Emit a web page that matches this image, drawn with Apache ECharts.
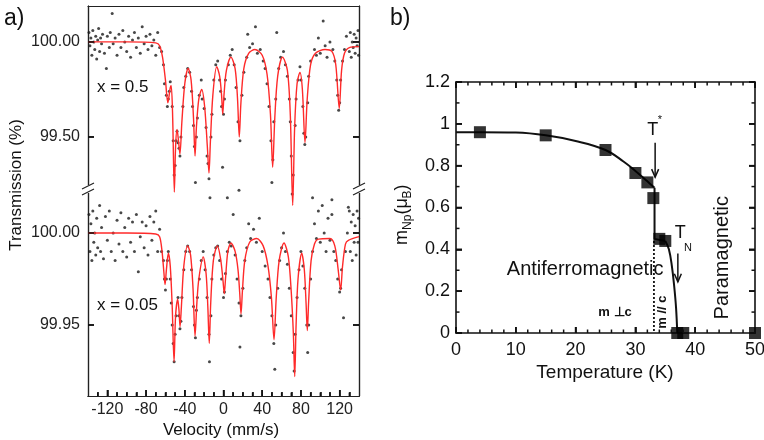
<!DOCTYPE html>
<html><head><meta charset="utf-8">
<script src="https://cdn.jsdelivr.net/npm/echarts@6/dist/echarts.min.js"></script>
<style>html,body{margin:0;padding:0;background:#fff}#c{width:764px;height:440px}</style>
</head><body><div id="c"></div>
<script>
// ---------- Panel a: Mössbauer spectra ----------
const velTicks = [-120, -80, -40, 0, 40, 80, 120];
const velMinorTicks = [-130, -110, -100, -90, -70, -60, -50, -30, -20, -10, 10, 20, 30, 50, 60, 70, 90, 100, 110, 130];
const topTicks = [99.5, 100.0];
const botTicks = [99.95, 100.0];

const scatterX05 = [
[-139,100.05],[-138,99.98],[-137,100.02],[-136,99.93],[-135,100.06],[-134,100.00],[-133,99.96],[-132,100.03],[-131,99.91],[-130,100.01],
[-129,100.07],[-128,99.95],[-127,100.02],[-126,99.99],[-125,100.04],[-123,99.94],[-121,99.86],[-120,100.03],[-118,99.97],[-117,100.05],
[-115,100.15],[-114,99.99],[-112,100.02],[-110,99.93],[-108,100.04],[-106,99.97],[-104,100.06],[-102,100.00],[-100,99.95],[-98,100.03],
[-96,99.92],[-94,100.01],[-92,100.05],[-90,99.97],[-88,100.02],[-86,99.94],[-84,100.08],[-82,99.99],[-80,100.03],[-78,99.96],
[-76,100.04],[-74,99.98],[-72,100.01],[-70,99.93],[-68,100.05],[-66,99.97],
[-64,99.95],[-62,99.88],[-61,99.78],[-59,99.72],[-58,99.66],[-57,99.70],[-56,99.74],[-55,99.79],[-53,99.66],[-52,99.48],
[-51,99.30],[-50,99.35],[-49,99.48],[-48,99.53],[-47,99.47],[-46,99.44],[-45,99.40],[-44,99.50],[-42,99.66],[-41,99.76],
[-39,99.82],[-37,99.86],[-35,99.84],[-33,99.74],[-32,99.66],[-31,99.56],[-30,99.45],[-29,99.26],[-28,99.50],[-27,99.60],
[-25,99.72],[-23,99.80],[-22,99.70],[-20,99.65],[-18,99.55],[-17,99.40],[-16,99.36],[-15,99.28],[-14,99.18],[-13,99.50],
[-12,99.62],[-10,99.80],[-8,99.88],[-6,99.90],[-4,99.80],[-3,99.74],[-2,99.66],[-1,99.34],[0,99.62],[1,99.70],
[2,99.80],[4,99.18],[5,99.88],[7,99.93],[9,99.96],[11,99.88],[13,99.76],[15,99.58],[16,99.22],[17,99.48],
[19,99.72],[21,99.84],[24,99.92],[25,100.04],[27,99.97],[30,99.99],[33,100.08],[35,99.94],[38,99.96],[41,99.90],
[43,99.86],[45,99.78],[47,99.66],[49,99.48],[50,99.26],[51,99.38],[52,99.58],[54,99.70],[55,100.05],[57,99.86],
[59,99.92],[62,99.95],[64,99.88],[66,99.82],[68,99.70],[69,99.58],[70,99.40],[71,99.20],[72,99.30],[74,99.56],
[75,99.70],[77,99.80],[79,99.87],[80,99.80],[82,99.66],[83,99.52],[84,99.46],[85,99.50],[87,99.68],[88,99.82],
[90,99.90],[92,99.18],[94,99.96],[96,99.93],[98,100.02],[100,99.94],[103,100.11],[105,99.98],[107,99.92],[110,100.00],
[112,99.17],[113,99.96],[115,99.90],[117,99.80],[118,99.72],[119,99.64],[120,99.68],[121,99.80],[123,99.90],[125,99.96],
[127,100.03],[129,99.13],[130,99.95],[131,100.05],[132,99.92],[133,100.00],[134,99.97],[135,100.04],[136,99.94],[137,100.02],
[138,99.98],[139,100.06],[139.5,99.93]
];

const fitX05 = [
[-140,100.00],[-100,100.00],[-70,99.995],[-66,99.98],[-63,99.92],[-60,99.80],[-57.5,99.68],[-55,99.76],[-54,99.77],[-52.5,99.60],
[-50.8,99.21],[-49.5,99.45],[-48,99.54],[-46.5,99.48],[-45,99.41],[-43,99.58],[-40,99.78],[-36.5,99.86],[-33.5,99.80],[-31,99.60],
[-29.4,99.40],[-28,99.55],[-25.5,99.70],[-22.5,99.75],[-19.5,99.66],[-16.7,99.45],[-15,99.31],[-13.5,99.48],[-11,99.72],[-7,99.87],
[-4,99.82],[-2,99.72],[-0.8,99.62],[0.5,99.72],[3,99.85],[7.7,99.92],[12,99.86],[14.5,99.70],[16.3,99.50],[18,99.68],
[21,99.86],[26,99.94],[32.5,99.96],[40,99.93],[45,99.83],[48.5,99.62],[50.8,99.34],[53,99.60],[56,99.82],[61,99.92],
[66,99.85],[69,99.62],[71.5,99.14],[73.5,99.55],[76,99.78],[79,99.84],[81.5,99.75],[84.2,99.47],[86.5,99.70],[90,99.88],
[95,99.94],[105,99.96],[112,99.95],[116,99.88],[119.6,99.65],[122,99.85],[125,99.94],[130,99.97],[140,99.975]
];

const scatterX005 = [
[-139,100.01],[-138,99.99],[-137,100.005],[-136,99.985],[-135,100.012],[-134,99.995],[-133,100.00],[-132,99.988],[-131,100.008],[-130,99.992],
[-128,100.015],[-127,99.99],[-126,100.003],[-124,99.986],[-122,100.009],[-120,99.996],[-118,100.012],[-116,99.99],[-114,100.00],[-112,99.985],
[-110,100.007],[-108,99.994],[-106,100.011],[-104,99.99],[-102,100.003],[-100,99.987],[-98,100.008],[-96,99.995],[-94,100.006],[-92,99.99],
[-90,100.01],[-88,99.979],[-86,99.998],[-84,100.006],[-82,99.992],[-80,100.004],[-78,99.988],[-76,100.009],[-74,99.996],[-72,100.006],
[-70,100.012],[-68,99.99],[-66,100.002],
[-64,99.99],[-62,99.985],[-61,99.975],[-60,99.969],[-59,99.975],[-58,99.985],[-57,99.99],[-55,99.975],[-54,99.962],[-53,99.95],
[-52,99.94],[-51,99.93],[-50,99.945],[-49,99.955],[-47,99.965],[-46,99.955],[-45,99.948],[-44,99.952],[-43,99.965],[-41,99.98],
[-39,99.99],[-37,99.993],[-35,99.99],[-33,99.98],[-31,99.96],[-30,99.95],[-29,99.943],[-28,99.958],[-27,99.965],[-25,99.975],
[-23,99.985],[-21,99.99],[-19,99.98],[-17,99.965],[-15,99.945],[-14.5,99.93],[-13,99.955],[-12,99.975],[-10,99.988],[-8,99.992],
[-6,99.993],[-4,99.985],[-2,99.975],[0,99.965],[1,99.968],[2,99.978],[4,99.99],[6,99.995],[8,99.993],[10,100.01],
[12,99.988],[14,99.975],[16,99.962],[17,99.938],[18,99.955],[20,99.97],[22,99.985],[24,99.992],[26,100.005],[28,99.997],
[31,100.002],[34,99.995],[37,100.008],[40,99.99],[43,99.982],[46,99.975],[48,99.965],[50,99.955],[52,99.94],[53,99.926],
[54,99.95],[56,99.97],[58,99.985],[60,99.992],[62,100.0],[64,99.99],[66,99.983],[68,99.97],[70,99.955],[72,99.935],
[73,99.925],[74,99.945],[76,99.965],[78,99.98],[80,99.99],[82,99.982],[84,99.97],[86,99.95],[87,99.935],[88,99.95],
[90,99.975],[92,99.99],[94,100.005],[96,99.997],[98,100.012],[100,99.995],[102,100.015],[104,100.0],[106,99.99],[108,100.008],
[110,99.996],[112,100.01],[114,99.99],[116,99.985],[118,99.975],[120,99.968],[121,99.97],[122,99.98],[124,99.954],[126,99.99],
[128,100.0],[130,100.012],[131,99.99],[132,100.006],[133,99.985],[134,100.01],[135,99.995],[136,100.004],[137,99.988],[138,100.012],
[139,99.995],[139.5,100.008]
];

const fitX005 = [
[-140,100.0],[-100,100.0],[-70,99.9995],[-66,99.998],[-63.5,99.99],[-61.5,99.978],[-60.4,99.972],[-59,99.98],[-57,99.989],[-55,99.982],
[-53,99.96],[-51.1,99.930],[-49.5,99.955],[-47.3,99.964],[-46,99.958],[-44.9,99.949],[-43.5,99.96],[-41,99.982],[-37,99.993],[-34,99.988],
[-31.5,99.97],[-29.4,99.944],[-27.5,99.962],[-25.5,99.975],[-21,99.987],[-18,99.978],[-16.2,99.96],[-14.7,99.940],[-13.2,99.962],[-10.5,99.985],
[-6.4,99.993],[-3,99.986],[-0.5,99.974],[0.8,99.967],[2.2,99.976],[4.5,99.99],[7.7,99.9946],[12,99.99],[15,99.98],[16.8,99.967],
[18.1,99.956],[19.5,99.968],[22,99.985],[27,99.995],[34.3,99.997],[41,99.993],[46,99.982],[49.5,99.965],[52.2,99.942],[54.5,99.965],
[57.5,99.985],[62.5,99.9946],[67,99.987],[70,99.968],[72.2,99.945],[73.6,99.922],[75,99.95],[77,99.975],[80.8,99.989],[83.5,99.98],
[85.3,99.962],[86.6,99.947],[88,99.963],[90.5,99.985],[94,99.994],[98,99.9967],[110,99.997],[115,99.993],[118.5,99.98],[121,99.969],
[123,99.982],[126,99.994],[129,99.996],[140,99.998]
];

// ---------- Panel b: ordered moment vs temperature ----------
const tempTicks = [0, 10, 20, 30, 40, 50];
const tempMinorTicks = [2, 4, 6, 8, 12, 14, 16, 18, 22, 24, 26, 28, 32, 34, 36, 38, 42, 44, 46, 48];
const momentTicks = [0, 0.2, 0.4, 0.6, 0.8, 1.0, 1.2];
const momentMinorTicks = [0.1, 0.3, 0.5, 0.7, 0.9, 1.1];
const momentPoints = [[4,0.96],[15,0.945],[25,0.875],[30,0.765],[32,0.72],[33,0.645],[34,0.45],[35,0.44],[37,0],[38,0],[50,0]];
const fitLow = [[0,0.96],[4,0.96],[10,0.958],[15,0.945],[20,0.918],[25,0.875],[28,0.82],[30,0.775],[32,0.725],[33.2,0.695]];
const fitJump = [[33.2,0.695],[33.2,0.45],[35,0.44]];
const fitHigh = [[35,0.44],[35.6,0.40],[36.1,0.32],[36.5,0.22],[36.8,0.12],[37,0]];
const dottedBoundary = [[33.1,0.44],[33.1,0]];

const FONT = 'Liberation Sans, Arial, sans-serif';
const chart = echarts.init(document.getElementById('c'));

const topMin = 98.137, topMax = 100.189;
const botMin = 99.9114, botMax = 100.1234;
const GA = {left: 88, top: 6, width: 271, height: 390};
const GB = {left: 456, top: 82, width: 299, height: 251};

function fmt2(v){ return Number(v).toFixed(2); }
function lineA(){ return {show: true, onZero: false, lineStyle: {color: '#222', width: 1.2}}; }
function lineB(){ return {show: true, onZero: false, lineStyle: {color: '#111', width: 1.6}}; }
function tickA(vals, len){ return {show: true, inside: true, length: len, customValues: vals, lineStyle: {color: '#000', width: 1.5}}; }
function tickB(vals, len){ return {show: true, inside: true, length: len, customValues: vals, lineStyle: {color: '#000', width: 1.6}}; }

// linear maps of the grids (used for annotations and tick strokes)
function PAx(v){ return GA.left + (v + 140) / 280 * GA.width; }
function PAyTop(t){ return GA.top + (topMax - t) / (topMax - topMin) * GA.height; }
function PAyBot(t){ return GA.top + (botMax - t) / (botMax - botMin) * GA.height; }
function PB(x, y){ return [GB.left + x / 50 * GB.width, GB.top + GB.height - y / 1.2 * GB.height]; }

function txt(x, y, text, size, extra){
  return Object.assign({type: 'text', x: x, y: y, z: 10,
    style: Object.assign({text: text, font: (extra && extra.bold ? 'bold ' : '') + size + 'px ' + FONT, fill: '#111',
      align: 'center', verticalAlign: 'middle'}, extra && extra.style)}, extra && extra.el);
}
function seg(x1, y1, x2, y2, w){
  return {type: 'line', z: 9, shape: {x1: x1, y1: y1, x2: x2, y2: y2}, style: {stroke: '#111', lineWidth: w || 1.4}};
}
function arrow(x, y1, y2){
  return [
    {type: 'line', z: 10, shape: {x1: x, y1: y1, x2: x, y2: y2}, style: {stroke: '#111', lineWidth: 1.5}},
    {type: 'polyline', z: 10, shape: {points: [[x - 3.5, y2 - 8], [x, y2], [x + 3.5, y2 - 8]]}, style: {stroke: '#111', lineWidth: 1.5, fill: null}}
  ];
}
function breakMark(x, y){
  return [
    {type: 'rect', z: 10, shape: {x: x - 3, y: y - 5, width: 6, height: 8}, style: {fill: '#fff'}},
    {type: 'line', z: 11, shape: {x1: x - 6, y1: y - 1, x2: x + 6, y2: y - 7}, style: {stroke: '#222', lineWidth: 1.2}},
    {type: 'line', z: 11, shape: {x1: x - 6, y1: y + 5, x2: x + 6, y2: y - 1}, style: {stroke: '#222', lineWidth: 1.2}}
  ];
}

// tick strokes (inward), derived from the tick arrays
const ticks = [];
const aBottom = GA.top + GA.height, aRight = GA.left + GA.width;
velTicks.forEach(v => ticks.push(seg(PAx(v), aBottom, PAx(v), aBottom - 6)));
velMinorTicks.forEach(v => ticks.push(seg(PAx(v), aBottom, PAx(v), aBottom - 3.5)));
topTicks.forEach(t => { const y = PAyTop(t); ticks.push(seg(GA.left, y, GA.left + 6, y)); ticks.push(seg(aRight, y, aRight - 6, y)); });
botTicks.forEach(t => { const y = PAyBot(t); ticks.push(seg(GA.left, y, GA.left + 6, y)); ticks.push(seg(aRight, y, aRight - 6, y)); });
const bBottom = GB.top + GB.height, bRight = GB.left + GB.width;
tempTicks.forEach(x => { const p = PB(x, 0)[0]; ticks.push(seg(p, bBottom, p, bBottom - 6, 1.6)); ticks.push(seg(p, GB.top, p, GB.top + 6, 1.6)); });
tempMinorTicks.forEach(x => { const p = PB(x, 0)[0]; ticks.push(seg(p, bBottom, p, bBottom - 3.5, 1.5)); ticks.push(seg(p, GB.top, p, GB.top + 3.5, 1.5)); });
momentTicks.forEach(m => { const p = PB(0, m)[1]; ticks.push(seg(GB.left, p, GB.left + 6, p, 1.6)); ticks.push(seg(bRight, p, bRight - 6, p, 1.6)); });
momentMinorTicks.forEach(m => { const p = PB(0, m)[1]; ticks.push(seg(GB.left, p, GB.left + 3.5, p, 1.5)); ticks.push(seg(bRight, p, bRight - 3.5, p, 1.5)); });

const tStar = PB(32.9, 0.97), tStarS = PB(34.1, 1.02);
const aStarTop = PB(33.3, 0.91), aStarBot = PB(33.3, 0.745);
const tN = PB(37.5, 0.478), tNs = PB(38.8, 0.405);
const aNTop = PB(37.1, 0.38), aNBot = PB(37.1, 0.245);
const afm = PB(21.6, 0.306), para = PB(44.5, 0.36), mPerp = PB(26.6, 0.096), mPar = PB(34.6, 0.10);

const graphics = [
  txt(4, 19, 'a)', 23, {style: {align: 'left'}}),
  txt(390, 19, 'b)', 23, {style: {align: 'left'}}),
  txt(16, 185, 'Transmission (%)', 17, {el: {rotation: Math.PI / 2}}),
  txt(221, 430, 'Velocity (mm/s)', 17),
  txt(97, 87, 'x = 0.5', 17, {style: {align: 'left'}}),
  txt(97, 305, 'x = 0.05', 17, {style: {align: 'left'}}),
  txt(605, 373, 'Temperature (K)', 19),
  {type: 'group', x: 402, y: 214, rotation: Math.PI / 2, z: 10, children: [
    {type: 'text', x: -31, y: 0, style: {text: 'm', font: '18px ' + FONT, fill: '#111', verticalAlign: 'middle'}},
    {type: 'text', x: -16, y: 6, style: {text: 'Np', font: '12px ' + FONT, fill: '#111', verticalAlign: 'middle'}},
    {type: 'text', x: -0.5, y: 0, style: {text: '(\u03bc', font: '18px ' + FONT, fill: '#111', verticalAlign: 'middle'}},
    {type: 'text', x: 15.5, y: 6, style: {text: 'B', font: '12px ' + FONT, fill: '#111', verticalAlign: 'middle'}},
    {type: 'text', x: 23.5, y: 0, style: {text: ')', font: '18px ' + FONT, fill: '#111', verticalAlign: 'middle'}}
  ]},
  txt(tStar[0], tStar[1], 'T', 18),
  txt(tStarS[0], tStarS[1], '*', 11),
  txt(tN[0], tN[1], 'T', 18),
  txt(tNs[0], tNs[1], 'N', 11),
  txt(afm[0], afm[1], 'Antiferromagnetic', 20),
  txt(para[0], para[1], 'Paramagnetic', 20, {el: {rotation: Math.PI / 2}}),
  txt(mPerp[0], mPerp[1], 'm \u22a5c', 13, {bold: true}),
  txt(mPar[0], mPar[1], 'm // c', 13, {bold: true, el: {rotation: Math.PI / 2}})
].concat(ticks)
 .concat(arrow(aStarTop[0], aStarTop[1], aStarBot[1]))
 .concat(arrow(aNTop[0], aNTop[1], aNBot[1]))
 .concat(breakMark(88, 190))
 .concat(breakMark(359, 190));

const option = {
  backgroundColor: '#fff',
  animation: false,
  grid: [
    Object.assign({outerBoundsMode: 'none'}, GA),
    Object.assign({outerBoundsMode: 'none'}, GA),
    Object.assign({outerBoundsMode: 'none'}, GB)
  ],
  xAxis: [
    {gridIndex: 0, type: 'value', min: -140, max: 140,
     axisLine: lineA(), splitLine: {show: false},
     axisTick: tickA(velTicks, 6),
     axisLabel: {customValues: velTicks, fontSize: 16, margin: 6, color: '#222', fontFamily: FONT}},
    {gridIndex: 0, type: 'value', min: -140, max: 140, position: 'top',
     axisLine: lineA(), splitLine: {show: false}, axisTick: {show: false}, axisLabel: {show: false}},
    {gridIndex: 1, type: 'value', min: -140, max: 140,
     axisLine: lineA(), splitLine: {show: false},
     axisTick: tickA(velMinorTicks, 4),
     axisLabel: {show: false}},
    {gridIndex: 2, type: 'value', min: 0, max: 50, interval: 10,
     axisLine: lineB(), splitLine: {show: false},
     axisTick: tickB(tempTicks, 6),
     axisLabel: {fontSize: 18, margin: 8, color: '#111', fontFamily: FONT}},
    {gridIndex: 2, type: 'value', min: 0, max: 50, interval: 10, position: 'top',
     axisLine: lineB(), splitLine: {show: false},
     axisTick: tickB(tempTicks, 6),
     axisLabel: {show: false}}
  ],
  yAxis: [
    {gridIndex: 0, type: 'value', min: topMin, max: topMax,
     axisLine: lineA(), splitLine: {show: false},
     axisTick: tickA(topTicks, 6),
     axisLabel: {customValues: topTicks, formatter: fmt2, fontSize: 16, margin: 8, color: '#222', fontFamily: FONT}},
    {gridIndex: 0, type: 'value', min: topMin, max: topMax, position: 'right',
     axisLine: lineA(), splitLine: {show: false},
     axisTick: tickA(topTicks, 6),
     axisLabel: {show: false}},
    {gridIndex: 1, type: 'value', min: botMin, max: botMax,
     axisLine: lineA(), splitLine: {show: false},
     axisTick: tickA(botTicks, 6),
     axisLabel: {customValues: botTicks, formatter: fmt2, fontSize: 16, margin: 8, color: '#222', fontFamily: FONT}},
    {gridIndex: 1, type: 'value', min: botMin, max: botMax, position: 'right',
     axisLine: lineA(), splitLine: {show: false},
     axisTick: tickA(botTicks, 6),
     axisLabel: {show: false}},
    {gridIndex: 2, type: 'value', min: 0, max: 1.2, interval: 0.2,
     axisLine: lineB(), splitLine: {show: false},
     axisTick: tickB(momentTicks, 6),
     axisLabel: {fontSize: 18, margin: 6, color: '#111', fontFamily: FONT}},
    {gridIndex: 2, type: 'value', min: 0, max: 1.2, interval: 0.2, position: 'right',
     axisLine: lineB(), splitLine: {show: false},
     axisTick: tickB(momentTicks, 6),
     axisLabel: {show: false}}
  ],
  graphic: {elements: graphics},
  series: [
    {type: 'scatter', xAxisIndex: 0, yAxisIndex: 0, data: scatterX05, symbolSize: 3,
     itemStyle: {color: '#1a1a1a'}, z: 2},
    {type: 'line', xAxisIndex: 0, yAxisIndex: 0, data: fitX05, showSymbol: false, smooth: 0.3,
     lineStyle: {color: '#ff2a2a', width: 1.4}, z: 3},
    {type: 'scatter', xAxisIndex: 2, yAxisIndex: 2, data: scatterX005, symbolSize: 3,
     itemStyle: {color: '#1a1a1a'}, z: 2},
    {type: 'line', xAxisIndex: 2, yAxisIndex: 2, data: fitX005, showSymbol: false, smooth: 0.3,
     lineStyle: {color: '#ff2a2a', width: 1.4}, z: 3},
    {type: 'line', xAxisIndex: 3, yAxisIndex: 4, data: fitLow, showSymbol: false, smooth: 0.4,
     lineStyle: {color: '#111', width: 2}, z: 3},
    {type: 'line', xAxisIndex: 3, yAxisIndex: 4, data: fitJump, showSymbol: false,
     lineStyle: {color: '#111', width: 2}, z: 3},
    {type: 'line', xAxisIndex: 3, yAxisIndex: 4, data: fitHigh, showSymbol: false, smooth: 0.4,
     lineStyle: {color: '#111', width: 2}, z: 3},
    {type: 'line', xAxisIndex: 3, yAxisIndex: 4, data: dottedBoundary, showSymbol: false,
     lineStyle: {color: '#111', width: 1.8, type: [2, 2]}, z: 3},
    {type: 'scatter', xAxisIndex: 3, yAxisIndex: 4, data: momentPoints, symbol: 'rect', symbolSize: 12,
     itemStyle: {color: '#000'}, z: 5, clip: false}
  ]
};
chart.setOption(option);
</script>
</body></html>
